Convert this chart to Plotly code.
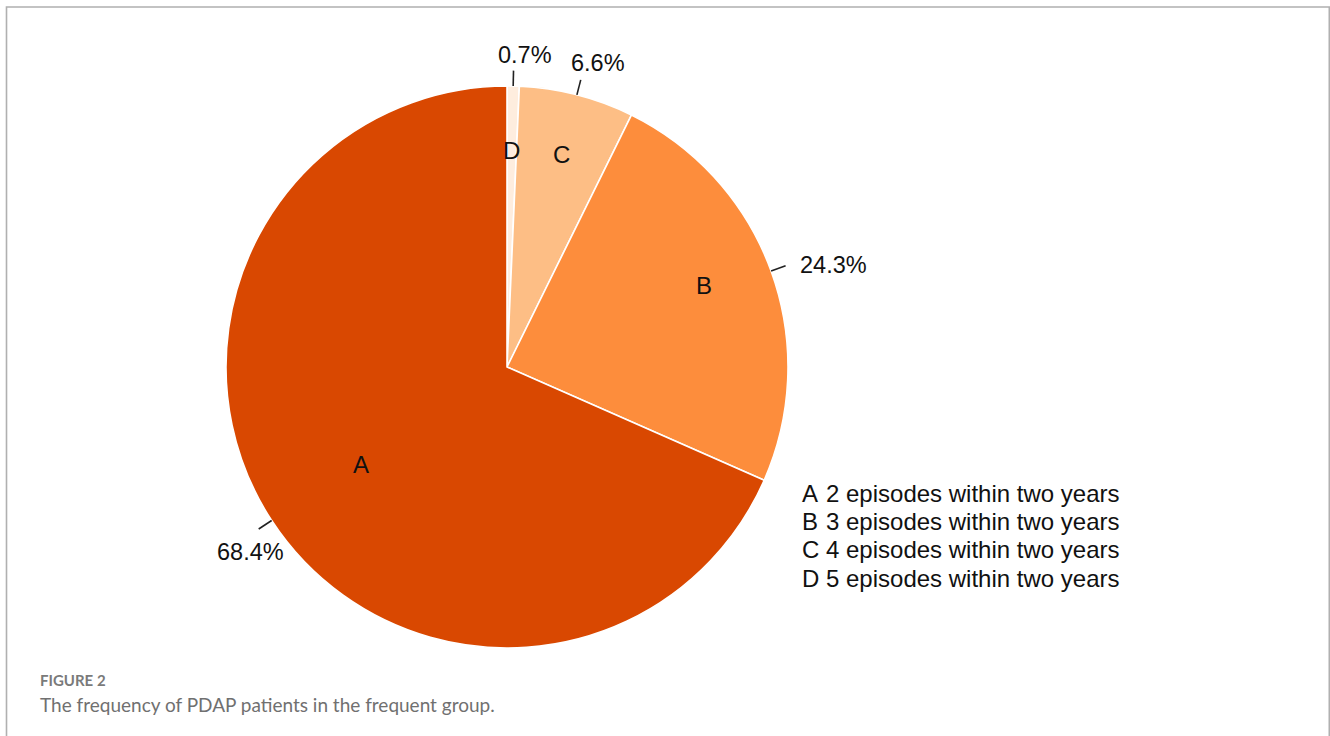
import math
import plotly.graph_objects as go

# Slices in clockwise order starting at 12 o'clock
letters = ["D", "C", "B", "A"]
shares = [0.7, 6.6, 24.3, 68.4]
pct_labels = ["0.7%", "6.6%", "24.3%", "68.4%"]
colors = ["#FEEDDE", "#FDBE85", "#FD8D3C", "#D94801"]

legend_letters = ["A", "B", "C", "D"]
legend_texts = [
    "2 episodes within two years",
    "3 episodes within two years",
    "4 episodes within two years",
    "5 episodes within two years",
]

caption_head = "FIGURE 2"
caption_body = "The frequency of PDAP patients in the frequent group."

W, H = 1330, 736
CX, CY, R = 507, 367, 281  # pie centre and radius in pixels (from top-left)
FONT = "Liberation Sans, Arial, sans-serif"


def px(x):
    return x / W


def py(y):
    return 1 - y / H


fig = go.Figure(
    go.Pie(
        values=shares,
        labels=letters,
        marker=dict(colors=colors, line=dict(color="white", width=1.6)),
        sort=False,
        direction="clockwise",
        rotation=0,
        textinfo="none",
        hoverinfo="label+percent",
        showlegend=False,
        domain=dict(x=[px(CX - R), px(CX + R)], y=[py(CY + R), py(CY - R)]),
    )
)

annotations = []
shapes = []

# Inner letter radius (fraction of R) and pixel nudges per slice
inner_r = [0.77, 0.78, 0.76, 0.62]
inner_nudge = [(0, 0), (0, 0), (-4, -9), (0, 2)]
# Percentage label offsets from the leader-line end, in pixels
label_off = [(11, -16), (17, -17), (48, -1), (-8, 23)]

total = sum(shares)
start = 0.0
for i, v in enumerate(shares):
    mid = (start + v / 2) / total * 2 * math.pi
    start += v
    sx, sy = math.sin(mid), -math.cos(mid)

    # letter inside the slice
    rr = inner_r[i] * R
    annotations.append(dict(
        x=px(CX + rr * sx + inner_nudge[i][0]), y=py(CY + rr * sy + inner_nudge[i][1]),
        xref="paper", yref="paper",
        text=letters[i], showarrow=False, xanchor="center", yanchor="middle",
        font=dict(family=FONT, size=24, color="#111111"),
    ))

    # leader line from the rim outward
    r0, r1 = R * 1.0, R * 1.055
    x0, y0 = CX + r0 * sx, CY + r0 * sy
    x1, y1 = CX + r1 * sx, CY + r1 * sy
    shapes.append(dict(
        type="line", xref="paper", yref="paper",
        x0=px(x0), y0=py(y0), x1=px(x1), y1=py(y1),
        line=dict(color="#222222", width=1.6),
    ))

    # percentage label next to the line end
    annotations.append(dict(
        x=px(x1 + label_off[i][0]), y=py(y1 + label_off[i][1]),
        xref="paper", yref="paper",
        text=pct_labels[i], showarrow=False, xanchor="center", yanchor="middle",
        font=dict(family=FONT, size=23.5, color="#111111"),
    ))

# text-only legend, letter column and description column
for k, (lt, tx) in enumerate(zip(legend_letters, legend_texts)):
    yy = 493 + k * 28.4
    annotations.append(dict(
        x=px(800), y=py(yy), xref="paper", yref="paper", text=lt,
        showarrow=False, xanchor="left", yanchor="middle",
        font=dict(family=FONT, size=24, color="#111111"),
    ))
    annotations.append(dict(
        x=px(824), y=py(yy), xref="paper", yref="paper", text=tx,
        showarrow=False, xanchor="left", yanchor="middle",
        font=dict(family=FONT, size=24, color="#111111"),
    ))

# caption
annotations.append(dict(
    x=px(38), y=py(680), xref="paper", yref="paper", text="<b>" + caption_head + "</b>",
    showarrow=False, xanchor="left", yanchor="middle",
    font=dict(family="Lato, Open Sans, sans-serif", size=15, color="#7a7a7a"),
))
annotations.append(dict(
    x=px(38), y=py(704), xref="paper", yref="paper", text=caption_body,
    showarrow=False, xanchor="left", yanchor="middle",
    font=dict(family="Lato, Open Sans, sans-serif", size=19, color="#707070"),
))

# outer frame
shapes.append(dict(
    type="rect", xref="paper", yref="paper",
    x0=px(6.5), y0=py(745), x1=px(1329.3), y1=py(7),
    line=dict(color="#b0b0b0", width=1.6), fillcolor="rgba(0,0,0,0)",
))

fig.update_layout(
    width=W, height=H,
    margin=dict(l=0, r=0, t=0, b=0),
    paper_bgcolor="white", plot_bgcolor="white",
    annotations=annotations, shapes=shapes,
)

fig.write_html("out.html")
